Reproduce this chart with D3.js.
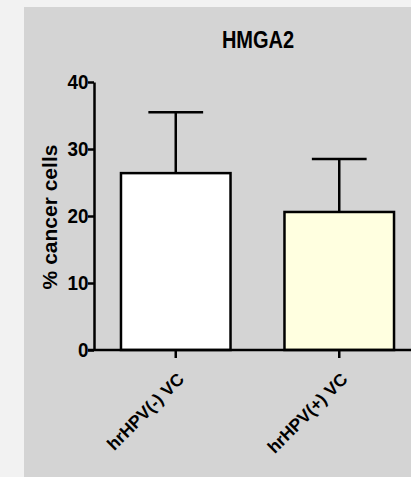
<!DOCTYPE html>
<html>
<head>
<meta charset="utf-8">
<script src="https://cdn.jsdelivr.net/npm/d3@7"></script>
<style>
  html, body { margin: 0; padding: 0; background: #f2f2f2; }
  svg { display: block; }
  .axis path, .axis line { stroke: #000; stroke-width: 2.5px; }
  .axis text { fill: #000; font-weight: bold; font-family: "Liberation Sans", Arial, sans-serif; }
</style>
</head>
<body>
<svg id="chart"></svg>
<script>
// data
const groups = ['hrHPV(-) VC', 'hrHPV(+) VC'];
const means = [26.4, 20.6];
const sds = [9.1, 7.9];
const fills = ['#ffffff', '#ffffe0'];
const yTicks = [0, 10, 20, 30, 40];

const width = 411, height = 477;
const svg = d3.select('#chart').attr('width', width).attr('height', height);

// grey panel
svg.append('rect')
    .attr('x', 24).attr('y', 7)
    .attr('width', width - 24).attr('height', height - 7)
    .attr('fill', '#d4d4d4');

const yScale = d3.scaleLinear().domain([0, 40]).range([350, 82]);
const xScale = d3.scaleBand()
    .domain(groups)
    .range([94, 421])
    .paddingInner(0.33)
    .paddingOuter(0.165);

const data = groups.map((g, i) => ({ group: g, mean: means[i], sd: sds[i], fill: fills[i] }));

// bars
svg.selectAll('rect.bar')
    .data(data)
    .enter()
    .append('rect')
    .attr('class', 'bar')
    .attr('x', d => xScale(d.group))
    .attr('y', d => yScale(d.mean))
    .attr('width', xScale.bandwidth())
    .attr('height', d => yScale(0) - yScale(d.mean))
    .attr('fill', d => d.fill)
    .attr('stroke', '#000')
    .attr('stroke-width', 2.5);

// error bars (upper only)
const err = svg.selectAll('g.err')
    .data(data)
    .enter()
    .append('g')
    .attr('class', 'err')
    .attr('stroke', '#000')
    .attr('stroke-width', 2.5);

err.append('line')
    .attr('x1', d => xScale(d.group) + xScale.bandwidth() / 2)
    .attr('x2', d => xScale(d.group) + xScale.bandwidth() / 2)
    .attr('y1', d => yScale(d.mean))
    .attr('y2', d => yScale(d.mean + d.sd));

err.append('line')
    .attr('x1', d => xScale(d.group) + xScale.bandwidth() / 4)
    .attr('x2', d => xScale(d.group) + xScale.bandwidth() * 3 / 4)
    .attr('y1', d => yScale(d.mean + d.sd))
    .attr('y2', d => yScale(d.mean + d.sd));

// y axis
const yAxisGroup = svg.append('g')
    .attr('class', 'axis y-axis')
    .attr('transform', 'translate(94,0)')
    .call(d3.axisLeft(yScale).tickValues(yTicks).tickSize(6).tickSizeOuter(0).tickPadding(0));

// condensed look of the tick numbers
yAxisGroup.selectAll('text')
    .style('font-size', '21px')
    .attr('transform', 'scale(0.9,1)');

// x axis
const xAxisGroup = svg.append('g')
    .attr('class', 'axis x-axis')
    .attr('transform', 'translate(0,350)')
    .call(d3.axisBottom(xScale).tickSize(8).tickSizeOuter(0));

xAxisGroup.select('.domain').attr('d', `M88,0H${width}`);

xAxisGroup.selectAll('text')
    .style('font-size', '17.5px')
    .style('text-anchor', 'end')
    .attr('x', 5)
    .attr('y', 26)
    .attr('dy', '0.35em')
    .attr('transform', 'rotate(-45, 5, 26)');

// title
svg.append('text')
    .attr('transform', 'translate(258,48) scale(0.87,1)')
    .attr('text-anchor', 'middle')
    .style('font-family', '"Liberation Sans", Arial, sans-serif')
    .style('font-size', '23px')
    .style('font-weight', 'bold')
    .text('HMGA2');

// y axis label
svg.append('text')
    .attr('transform', 'translate(57,217) rotate(-90)')
    .attr('text-anchor', 'middle')
    .style('font-family', '"Liberation Sans", Arial, sans-serif')
    .style('font-size', '21px')
    .style('font-weight', 'bold')
    .text('% cancer cells');
</script>
</body>
</html>
